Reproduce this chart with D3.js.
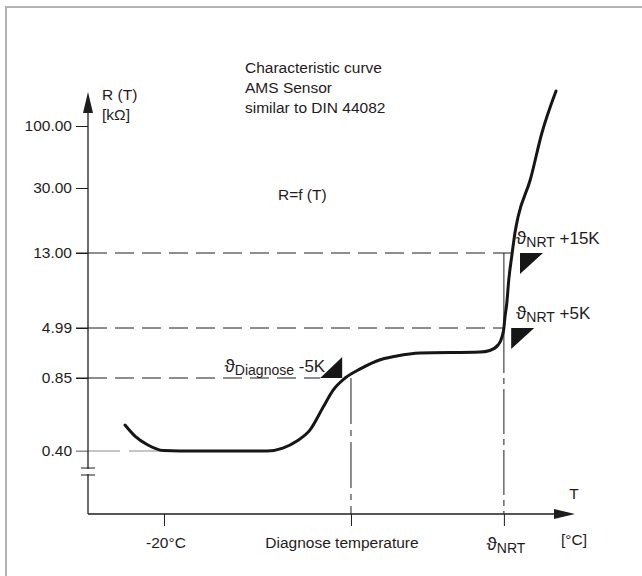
<!DOCTYPE html>
<html>
<head>
<meta charset="utf-8">
<script src="https://cdn.jsdelivr.net/npm/d3@7"></script>
<style>
  body { margin: 0; background: #fff; }
  text { font-family: "Liberation Sans", Arial, sans-serif; fill: #1f1c1d; }
</style>
</head>
<body>
<svg id="chart" width="642" height="576"></svg>
<script>
// resistance ticks in kOhm (schematic, unevenly spaced)
const yTicks = [0.40, 0.85, 4.99, 13.00, 30.00, 100.00];
const yTickLabels = ["0.40", "0.85", "4.99", "13.00", "30.00", "100.00"];

// temperature in relative units along the axis (0..100)
const xTicks = [15.6, 54.0, 85.4];
const xTickMain = ["-20°C", "Diagnose temperature", "ϑ"];
const xTickSub = ["", "", "NRT"];

// characteristic curve R = f(T)
const curveT = [7.6, 9.7, 12.3, 15.4, 18.9, 36.8, 40.0, 42.9, 45.6, 48.3, 50.3, 52.8,
  55.9, 59.3, 63.4, 68.2, 80.5, 82.5, 84.2, 85.0, 85.4, 85.6, 86.0, 86.4, 87.1,
  87.7, 88.3, 90.8, 93.2, 96.1];
const curveR = [0.56, 0.49, 0.437, 0.403, 0.40, 0.40, 0.418, 0.462, 0.53, 0.671, 0.774, 0.85,
  1.60, 2.26, 2.67, 2.92, 3.00, 3.13, 3.58, 4.24, 4.99, 6.06, 7.66, 10.12, 13.0,
  18.5, 22.4, 39.0, 92.1, 139.5];

// threshold markers
const markerName = ["Diagnose", "NRT", "NRT"];
const markerOffset = ["-5K", "+5K", "+15K"];
const markerT = [52.2, 86.9, 88.7];
const markerR = [0.85, 4.99, 13.00];

const svg = d3.select("#chart");
const x0 = 88, y0 = 514;

const x = d3.scaleLinear().domain([0, 100]).range([x0, 575]);
const y = d3.scaleLinear().domain(yTicks).range([451, 378, 328, 253, 188, 126]);

// frame
svg.append("path")
  .attr("d", "M6,576V7H642")
  .attr("fill", "none")
  .attr("stroke", "#b3b3b3")
  .attr("stroke-width", 2);

const ink = "#1f1c1d";

// horizontal guide lines
const guideEnd = [x(xTicks[0]), x(markerT[0]) - 22, x(xTicks[2]), x(markerT[2])];
[0, 1, 2, 3].forEach(i => {
  svg.append("line")
    .attr("x1", x0 - 12).attr("x2", guideEnd[i])
    .attr("y1", y(yTicks[i])).attr("y2", y(yTicks[i]))
    .attr("stroke", i === 0 ? "#8c8c8c" : ink)
    .attr("stroke-width", 1)
    .attr("stroke-dasharray", i === 0 ? "44,9,32,9" : "31,8,19,8,19,8,19,8,19,8,19,8,19,8,19,8,19,8,19,8,19,8,19,8,19,8,19,8,19,8,19,8,19,8,19,8,19,8,19,8,19,8");
});

// vertical guide lines
svg.append("line")
  .attr("x1", x(xTicks[1])).attr("x2", x(xTicks[1]))
  .attr("y1", y(0.85)).attr("y2", y0)
  .attr("stroke", ink).attr("stroke-width", 1)
  .attr("stroke-dasharray", "46,6,6,6");
svg.append("line")
  .attr("x1", x(xTicks[2])).attr("x2", x(xTicks[2]))
  .attr("y1", y(13.0)).attr("y2", y(4.99))
  .attr("stroke", ink).attr("stroke-width", 1);
svg.append("line")
  .attr("x1", x(xTicks[2])).attr("x2", x(xTicks[2]))
  .attr("y1", y(4.99)).attr("y2", y0)
  .attr("stroke", ink).attr("stroke-width", 1)
  .attr("stroke-dasharray", "45,5,6,5");

// y axis
const yAxis = svg.append("g")
  .attr("transform", `translate(${x0},0)`)
  .call(d3.axisLeft(y).tickValues(yTicks).tickFormat((d, i) => yTickLabels[i])
    .tickSize(12).tickPadding(4));
yAxis.select(".domain").remove();
yAxis.selectAll(".tick line").attr("stroke", (d, i) => i === 0 ? "#8c8c8c" : ink);
yAxis.selectAll(".tick text")
  .style("font-family", "'Liberation Sans', Arial, sans-serif")
  .style("font-size", "15.5px").attr("fill", ink);

// x axis ticks
const xAxis = svg.append("g")
  .attr("transform", `translate(0,${y0})`)
  .call(d3.axisBottom(x).tickValues(xTicks).tickFormat("").tickSize(12));
xAxis.select(".domain").remove();
xAxis.selectAll(".tick line").attr("stroke", ink);

// axis lines with arrows
svg.append("line").attr("x1", x0).attr("x2", x0).attr("y1", y0).attr("y2", 100)
  .attr("stroke", ink).attr("stroke-width", 1.3);
svg.append("line").attr("x1", x0).attr("x2", 560).attr("y1", y0).attr("y2", y0)
  .attr("stroke", ink).attr("stroke-width", 1.3);
svg.append("path").attr("d", `M${x0},92L${x0 - 5},113L${x0 + 5},113Z`).attr("fill", ink);
svg.append("path").attr("d", `M575,${y0}L554,${y0 - 5}L554,${y0 + 5}Z`).attr("fill", ink);

// axis break
svg.append("rect").attr("x", x0 - 3).attr("y", 469).attr("width", 6).attr("height", 5).attr("fill", "#fff");
[468, 475].forEach(v => svg.append("line")
  .attr("x1", x0 - 7).attr("x2", x0 + 7).attr("y1", v).attr("y2", v)
  .attr("stroke", ink).attr("stroke-width", 1));

// curve
const line = d3.line()
  .x((d, i) => x(curveT[i]))
  .y((d, i) => y(curveR[i]))
  .curve(d3.curveMonotoneX);
svg.append("path")
  .datum(curveT)
  .attr("d", line)
  .attr("fill", "none")
  .attr("stroke", "#161616")
  .attr("stroke-width", 3)
  .attr("stroke-linecap", "round");

// markers (triangles + labels)
markerT.forEach((t, i) => {
  const mx = x(t), my = y(markerR[i]);
  const down = markerOffset[i].startsWith("+");
  const pts = down
    ? [[mx, my], [mx + 23, my], [mx, my + 21]]
    : [[mx - 22, my], [mx, my], [mx, my - 21]];
  svg.append("path").attr("d", "M" + pts.join("L") + "Z").attr("fill", "#161616");

  const lbl = svg.append("text")
    .attr("x", down ? x(xTicks[2]) + 12 : mx - 17)
    .attr("y", my - (down ? 9 : 6))
    .attr("text-anchor", down ? "start" : "end")
    .style("font-size", "17px");
  lbl.append("tspan").text("ϑ").style("font-size", "19px");
  lbl.append("tspan").text(markerName[i]).attr("dy", 3).style("font-size", "14px");
  lbl.append("tspan").text(" " + markerOffset[i]).attr("dy", -3);
});

// x tick labels
xTicks.forEach((t, i) => {
  const lbl = svg.append("text")
    .attr("x", x(t) + (i === 1 ? -9 : 2))
    .attr("y", i === 2 ? 550 : 548)
    .attr("text-anchor", "middle")
    .style("font-size", "15.5px");
  lbl.append("tspan").text(xTickMain[i]).style("font-size", i === 2 ? "19px" : null);
  if (xTickSub[i]) lbl.append("tspan").text(xTickSub[i]).attr("dy", 3).style("font-size", "14px");
});

// axis titles
const label = (tx, ty, s, anchor) => svg.append("text")
  .attr("x", tx).attr("y", ty).attr("text-anchor", anchor || "start")
  .style("font-size", "15.5px").text(s);
label(102, 100, "R (T)");
label(102, 120, "[kΩ]");
label(574, 499, "T", "middle");
label(574, 545, "[°C]", "middle");

// notes
["Characteristic curve", "AMS Sensor", "similar to DIN 44082"]
  .forEach((s, i) => label(245, 73 + i * 20, s));
label(278, 200, "R=f (T)");
</script>
</body>
</html>
